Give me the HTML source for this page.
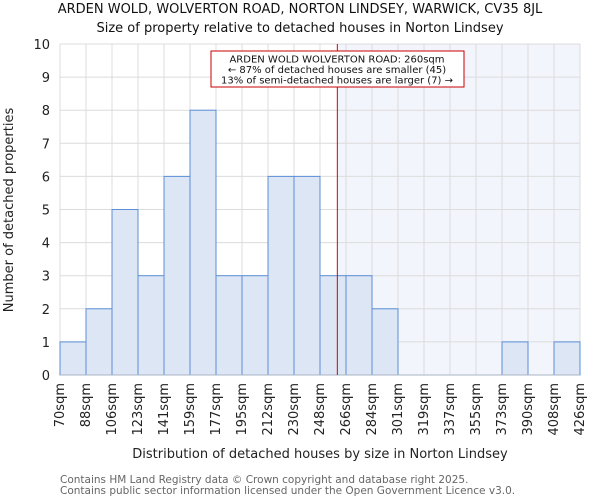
<!DOCTYPE html>
<html><head><meta charset="utf-8"><style>body{margin:0;background:#fff}svg{display:block;font-family:"DejaVu Sans","Liberation Sans",sans-serif}</style></head>
<body>
<svg id="c" width="600" height="500"></svg>
<script>
const categories=["70sqm","88sqm","106sqm","123sqm","141sqm","159sqm","177sqm","195sqm","212sqm","230sqm","248sqm","266sqm","284sqm","301sqm","319sqm","337sqm","355sqm","373sqm","390sqm","408sqm","426sqm"];
const counts=[1,2,5,3,6,8,3,3,6,6,3,3,2,0,0,0,0,1,0,1];
const yTicks=[0,1,2,3,4,5,6,7,8,9,10];
const markerValue=260;
const binEdges=[70,88,106,123,141,159,177,195,212,230,248,266,284,301,319,337,355,373,390,408,426];
const L=60,R=580,T=44,B=375;
const NS="http://www.w3.org/2000/svg";
const svg=document.getElementById('c');
function x(i){return L+(R-L)*i/counts.length;}
function y(v){return B-(B-T)*v/10;}
function xv(v){for(let i=0;i<binEdges.length-1;i++){if(v<=binEdges[i+1])return x(i)+(x(i+1)-x(i))*(v-binEdges[i])/(binEdges[i+1]-binEdges[i]);}return R;}
function el(t,a,txt){const e=document.createElementNS(NS,t);for(const k in a)e.setAttribute(k,a[k]);if(txt!=null)e.textContent=txt;svg.appendChild(e);return e;}
const mx=xv(markerValue);
let e;
e=el('rect',{x:mx,y:T,width:R-mx,height:B-T,fill:'#f3f5fc'});


yTicks.forEach(v=>{
 e=el('line',{x1:L,x2:R,y1:y(v),y2:y(v),stroke:'#dcdcdc','stroke-width':1});
 
 
 e=el('text',{x:L-10,y:y(v)+5,'text-anchor':'end','font-size':13,fill:'#222'},v);
 
 
});
for(let i=0;i<=counts.length;i++){
 e=el('line',{x1:x(i),x2:x(i),y1:T,y2:B,stroke:'#dcdcdc','stroke-width':1});
 
 
}
counts.forEach((c,i)=>{
 if(c<=0)return;
 e=el('rect',{x:x(i),y:y(c),width:x(i+1)-x(i),height:B-y(c),fill:'#dce6f4',stroke:'#5b8fd6','stroke-width':1});
 
 
});
e=el('line',{x1:L,x2:R,y1:B,y2:B,stroke:'#aab4c4'});


categories.forEach((c,i)=>{
 const tx=x(i)+4;
 e=el('text',{x:0,y:0,transform:`translate(${tx},${B+8}) rotate(-90)`,'text-anchor':'end','font-size':13,fill:'#222'},c);
 
 
});
e=el('line',{x1:mx,x2:mx,y1:T,y2:B,stroke:'#dd0000','stroke-width':1});


e=el('rect',{x:211,y:51,width:253,height:36,fill:'#fff',stroke:'#cc0000','stroke-width':1});


["ARDEN WOLD WOLVERTON ROAD: 260sqm","← 87% of detached houses are smaller (45)","13% of semi-detached houses are larger (7) →"].forEach((t,i)=>{
 e=el('text',{x:337,y:62.5+i*10.5,'text-anchor':'middle','font-size':10,fill:'#111'},t);
 
 
});
e=el('text',{x:300,y:13,'text-anchor':'middle','font-size':13,fill:'#111'},"ARDEN WOLD, WOLVERTON ROAD, NORTON LINDSEY, WARWICK, CV35 8JL");


e=el('text',{x:300,y:32,'text-anchor':'middle','font-size':13,fill:'#111'},"Size of property relative to detached houses in Norton Lindsey");


e=el('text',{x:0,y:0,transform:'translate(13,210) rotate(-90)','text-anchor':'middle','font-size':13,fill:'#222'},"Number of detached properties");


e=el('text',{x:320,y:458,'text-anchor':'middle','font-size':13,fill:'#222'},"Distribution of detached houses by size in Norton Lindsey");


e=el('text',{x:60,y:483,'font-size':10.5,fill:'#666'},"Contains HM Land Registry data © Crown copyright and database right 2025.");


e=el('text',{x:60,y:494,'font-size':10.5,fill:'#666'},"Contains public sector information licensed under the Open Government Licence v3.0.");


</script>
</body></html>
